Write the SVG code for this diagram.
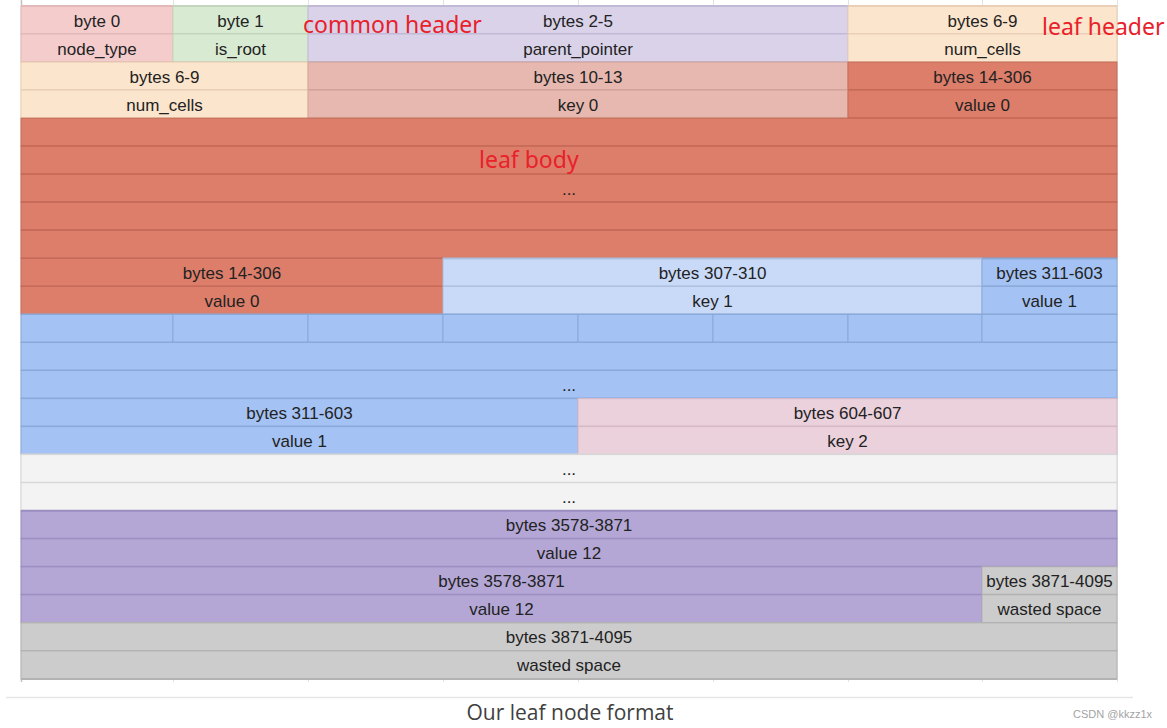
<svg xmlns="http://www.w3.org/2000/svg" width="1167" height="728" viewBox="0 0 1167 728">
<style>
.t{font-family:"Liberation Sans",Arial,sans-serif;font-size:17px;fill:#222;text-anchor:middle}
.ann{font-family:"Noto Sans",sans-serif;font-size:23px;fill:#e8212b}
.cap{font-family:"Open Sans",sans-serif;font-size:21px;fill:#404040;text-anchor:middle}
.wm{font-family:"Liberation Sans",Arial,sans-serif;font-size:11px;fill:#a3a3a3}
.pk{fill:#f4cccc;stroke:#e2b8b8}
.gr{fill:#d9ead3;stroke:#c3d6bc}
.lv{fill:#d9d2e9;stroke:#c2b9d6}
.pc{fill:#fce5cd;stroke:#e8cfb5}
.rs{fill:#e6b8af;stroke:#d3a399}
.rd{fill:#dd7e6b;stroke:#c56a58}
.lb{fill:#c9daf8;stroke:#adbfdd}
.bl{fill:#a4c2f4;stroke:#8aa8d8}
.p2{fill:#ead1dc;stroke:#d5bac6}
.lg{fill:#f3f3f3;stroke:#d6d6d6}
.pu{fill:#b4a7d6;stroke:#9b8dc0}
.gy{fill:#cccccc;stroke:#b2b2b2}
rect{stroke-width:1}
.h{fill:none;stroke-width:2}
.grid{stroke:#e2e2e2;stroke-width:1;fill:none}
</style>
<rect width="1167" height="728" fill="#ffffff" stroke="none"/>
<g id="sheet-grid">
<path class="grid" d="M173.5 0V682M308.5 0V682M443.5 0V682M578.5 0V682M713.5 0V682M848.5 0V682M982.5 0V682M1117.5 0V682"/>
<path d="M21.5 0V682" stroke="#c2c2c2" stroke-width="1.5" fill="none"/>
</g>
<g id="row0">
<g id="c-byte0"><rect class="pk" x="21" y="6" width="152" height="28"/><path class="h pk" d="M21 6H173M21 34H173"/><text class="t" x="97" y="26.5">byte 0</text></g>
<g id="c-byte1"><rect class="gr" x="173" y="6" width="135" height="28"/><path class="h gr" d="M173 6H308M173 34H308"/><text class="t" x="240.5" y="26.5">byte 1</text></g>
<g id="c-bytes2-5"><rect class="lv" x="308" y="6" width="540" height="28"/><path class="h lv" d="M308 6H848M308 34H848"/><text class="t" x="578" y="26.5">bytes 2-5</text></g>
<g id="c-bytes6-9a"><rect class="pc" x="848" y="6" width="269" height="28"/><path class="h pc" d="M848 6H1117M848 34H1117"/><text class="t" x="982.5" y="26.5">bytes 6-9</text></g>
</g>
<g id="row1">
<g id="c-node_type"><rect class="pk" x="21" y="34" width="152" height="28.1"/><path class="h pk" d="M21 62.1H173"/><text class="t" x="97" y="54.5">node_type</text></g>
<g id="c-is_root"><rect class="gr" x="173" y="34" width="135" height="28.1"/><path class="h gr" d="M173 62.1H308"/><text class="t" x="240.5" y="54.5">is_root</text></g>
<g id="c-parent_pointer"><rect class="lv" x="308" y="34" width="540" height="28.1"/><path class="h lv" d="M308 62.1H848"/><text class="t" x="578" y="54.5">parent_pointer</text></g>
<g id="c-num_cells-a"><rect class="pc" x="848" y="34" width="269" height="28.1"/><path class="h pc" d="M848 62.1H1117"/><text class="t" x="982.5" y="54.5">num_cells</text></g>
</g>
<g id="row2">
<g id="c-bytes6-9b"><rect class="pc" x="21" y="62.1" width="287" height="28"/><path class="h pc" d="M21 90.1H308"/><text class="t" x="164.5" y="82.6">bytes 6-9</text></g>
<g id="c-bytes10-13"><rect class="rs" x="308" y="62.1" width="540" height="28"/><path class="h rs" d="M308 90.1H848"/><text class="t" x="578" y="82.6">bytes 10-13</text></g>
<g id="c-bytes14-306a"><rect class="rd" x="848" y="62.1" width="269" height="28"/><path class="h rd" d="M848 90.1H1117"/><text class="t" x="982.5" y="82.6">bytes 14-306</text></g>
</g>
<g id="row3">
<g id="c-num_cells-b"><rect class="pc" x="21" y="90.1" width="287" height="28.1"/><path class="h pc" d="M21 118.2H308"/><text class="t" x="164.5" y="110.6">num_cells</text></g>
<g id="c-key0"><rect class="rs" x="308" y="90.1" width="540" height="28.1"/><path class="h rs" d="M308 118.2H848"/><text class="t" x="578" y="110.6">key 0</text></g>
<g id="c-value0a"><rect class="rd" x="848" y="90.1" width="269" height="28.1"/><path class="h rd" d="M848 118.2H1117"/><text class="t" x="982.5" y="110.6">value 0</text></g>
</g>
<g id="leaf-body-rows">
<g id="r4"><rect class="rd" x="21" y="118.2" width="1096" height="28"/><path class="h rd" d="M21 146.2H1117"/></g>
<g id="r5"><rect class="rd" x="21" y="146.2" width="1096" height="28"/><path class="h rd" d="M21 174.2H1117"/></g>
<g id="r6"><rect class="rd" x="21" y="174.2" width="1096" height="28.1"/><path class="h rd" d="M21 202.3H1117"/><text class="t" x="569" y="194.7">...</text></g>
<g id="r7"><rect class="rd" x="21" y="202.3" width="1096" height="28"/><path class="h rd" d="M21 230.3H1117"/></g>
<g id="r8"><rect class="rd" x="21" y="230.3" width="1096" height="28.1"/><path class="h rd" d="M21 258.4H1117"/></g>
</g>
<g id="row9">
<g id="c-bytes14-306b"><rect class="rd" x="21" y="258.4" width="422" height="28"/><path class="h rd" d="M21 286.4H443"/><text class="t" x="232" y="278.9">bytes 14-306</text></g>
<g id="c-bytes307-310"><rect class="lb" x="443" y="258.4" width="539" height="28"/><path class="h lb" d="M443 258.4H982M443 286.4H982"/><text class="t" x="712.5" y="278.9">bytes 307-310</text></g>
<g id="c-bytes311-603a"><rect class="bl" x="982" y="258.4" width="135" height="28"/><path class="h bl" d="M982 258.4H1117M982 286.4H1117"/><text class="t" x="1049.5" y="278.9">bytes 311-603</text></g>
</g>
<g id="row10">
<g id="c-value0b"><rect class="rd" x="21" y="286.4" width="422" height="28"/><text class="t" x="232" y="306.9">value 0</text></g>
<g id="c-key1"><rect class="lb" x="443" y="286.4" width="539" height="28"/><text class="t" x="712.5" y="306.9">key 1</text></g>
<g id="c-value1a"><rect class="bl" x="982" y="286.4" width="135" height="28"/><text class="t" x="1049.5" y="306.9">value 1</text></g>
<path class="h bl" d="M21 314.4H1117"/>
</g>
<g id="row11">
<rect class="bl" x="21" y="314.4" width="152" height="28.1"/>
<rect class="bl" x="173" y="314.4" width="135" height="28.1"/>
<rect class="bl" x="308" y="314.4" width="135" height="28.1"/>
<rect class="bl" x="443" y="314.4" width="135" height="28.1"/>
<rect class="bl" x="578" y="314.4" width="135" height="28.1"/>
<rect class="bl" x="713" y="314.4" width="135" height="28.1"/>
<rect class="bl" x="848" y="314.4" width="134" height="28.1"/>
<rect class="bl" x="982" y="314.4" width="135" height="28.1"/>
<path class="h bl" d="M21 342.5H1117"/>
</g>
<g id="row12"><rect class="bl" x="21" y="342.5" width="1096" height="28"/><path class="h bl" d="M21 370.5H1117"/></g>
<g id="row13"><rect class="bl" x="21" y="370.5" width="1096" height="28.1"/><path class="h bl" d="M21 398.6H1117"/><text class="t" x="569" y="391">...</text></g>
<g id="row14">
<g id="c-bytes311-603b"><rect class="bl" x="21" y="398.6" width="557" height="28"/><path class="h bl" d="M21 426.6H578"/><text class="t" x="299.5" y="419.1">bytes 311-603</text></g>
<g id="c-bytes604-607"><rect class="p2" x="578" y="398.6" width="539" height="28"/><path class="h p2" d="M578 426.6H1117"/><text class="t" x="847.5" y="419.1">bytes 604-607</text></g>
</g>
<g id="row15">
<g id="c-value1b"><rect class="bl" x="21" y="426.6" width="557" height="28"/><text class="t" x="299.5" y="447.1">value 1</text></g>
<g id="c-key2"><rect class="p2" x="578" y="426.6" width="539" height="28"/><text class="t" x="847.5" y="447.1">key 2</text></g>
<path class="h lg" d="M21 454.6H1117"/>
</g>
<g id="row16"><rect class="lg" x="21" y="454.6" width="1096" height="28.1"/><path class="h lg" d="M21 482.7H1117"/><text class="t" x="569" y="475.1">...</text></g>
<g id="row17"><rect class="lg" x="21" y="482.7" width="1096" height="28"/><text class="t" x="569" y="503.2">...</text></g>
<g id="row18"><rect class="pu" x="21" y="510.7" width="1096" height="28.1"/><path class="h pu" d="M21 510.7H1117M21 538.8H1117"/><text class="t" x="569" y="531.2">bytes 3578-3871</text></g>
<g id="row19"><rect class="pu" x="21" y="538.8" width="1096" height="28"/><path class="h pu" d="M21 566.8H1117"/><text class="t" x="569" y="559.3">value 12</text></g>
<g id="row20">
<g id="c-bytes3578-3871"><rect class="pu" x="21" y="566.8" width="961" height="28"/><path class="h pu" d="M21 594.8H982"/><text class="t" x="501.5" y="587.3">bytes 3578-3871</text></g>
<g id="c-bytes3871-4095a"><rect class="gy" x="982" y="566.8" width="135" height="28"/><path class="h gy" d="M982 594.8H1117"/><text class="t" x="1049.5" y="587.3">bytes 3871-4095</text></g>
</g>
<g id="row21">
<g id="c-value12"><rect class="pu" x="21" y="594.8" width="961" height="28.1"/><text class="t" x="501.5" y="615.3">value 12</text></g>
<g id="c-wasted-a"><rect class="gy" x="982" y="594.8" width="135" height="28.1"/><text class="t" x="1049.5" y="615.3">wasted space</text></g>
<path class="h gy" d="M21 622.9H1117"/>
</g>
<g id="row22"><rect class="gy" x="21" y="622.9" width="1096" height="28"/><path class="h gy" d="M21 650.9H1117"/><text class="t" x="569" y="643.4">bytes 3871-4095</text></g>
<g id="row23"><rect class="gy" x="21" y="650.9" width="1096" height="28.1"/><path class="h gy" d="M21 679H1117"/><text class="t" x="569" y="671.4">wasted space</text></g>
<g id="annotations">
<text class="ann" x="303" y="33">common header</text>
<text class="ann" x="1042" y="35">leaf header</text>
<text class="ann" x="479" y="168">leaf body</text>
</g>
<g id="connectors"></g>
<path d="M6 697.5H1133" stroke="#e6e6e6" stroke-width="1.5" fill="none"/>
<text class="cap" x="570" y="720">Our leaf node format</text>
<text class="wm" x="1073" y="718">CSDN @kkzz1x</text>
</svg>
